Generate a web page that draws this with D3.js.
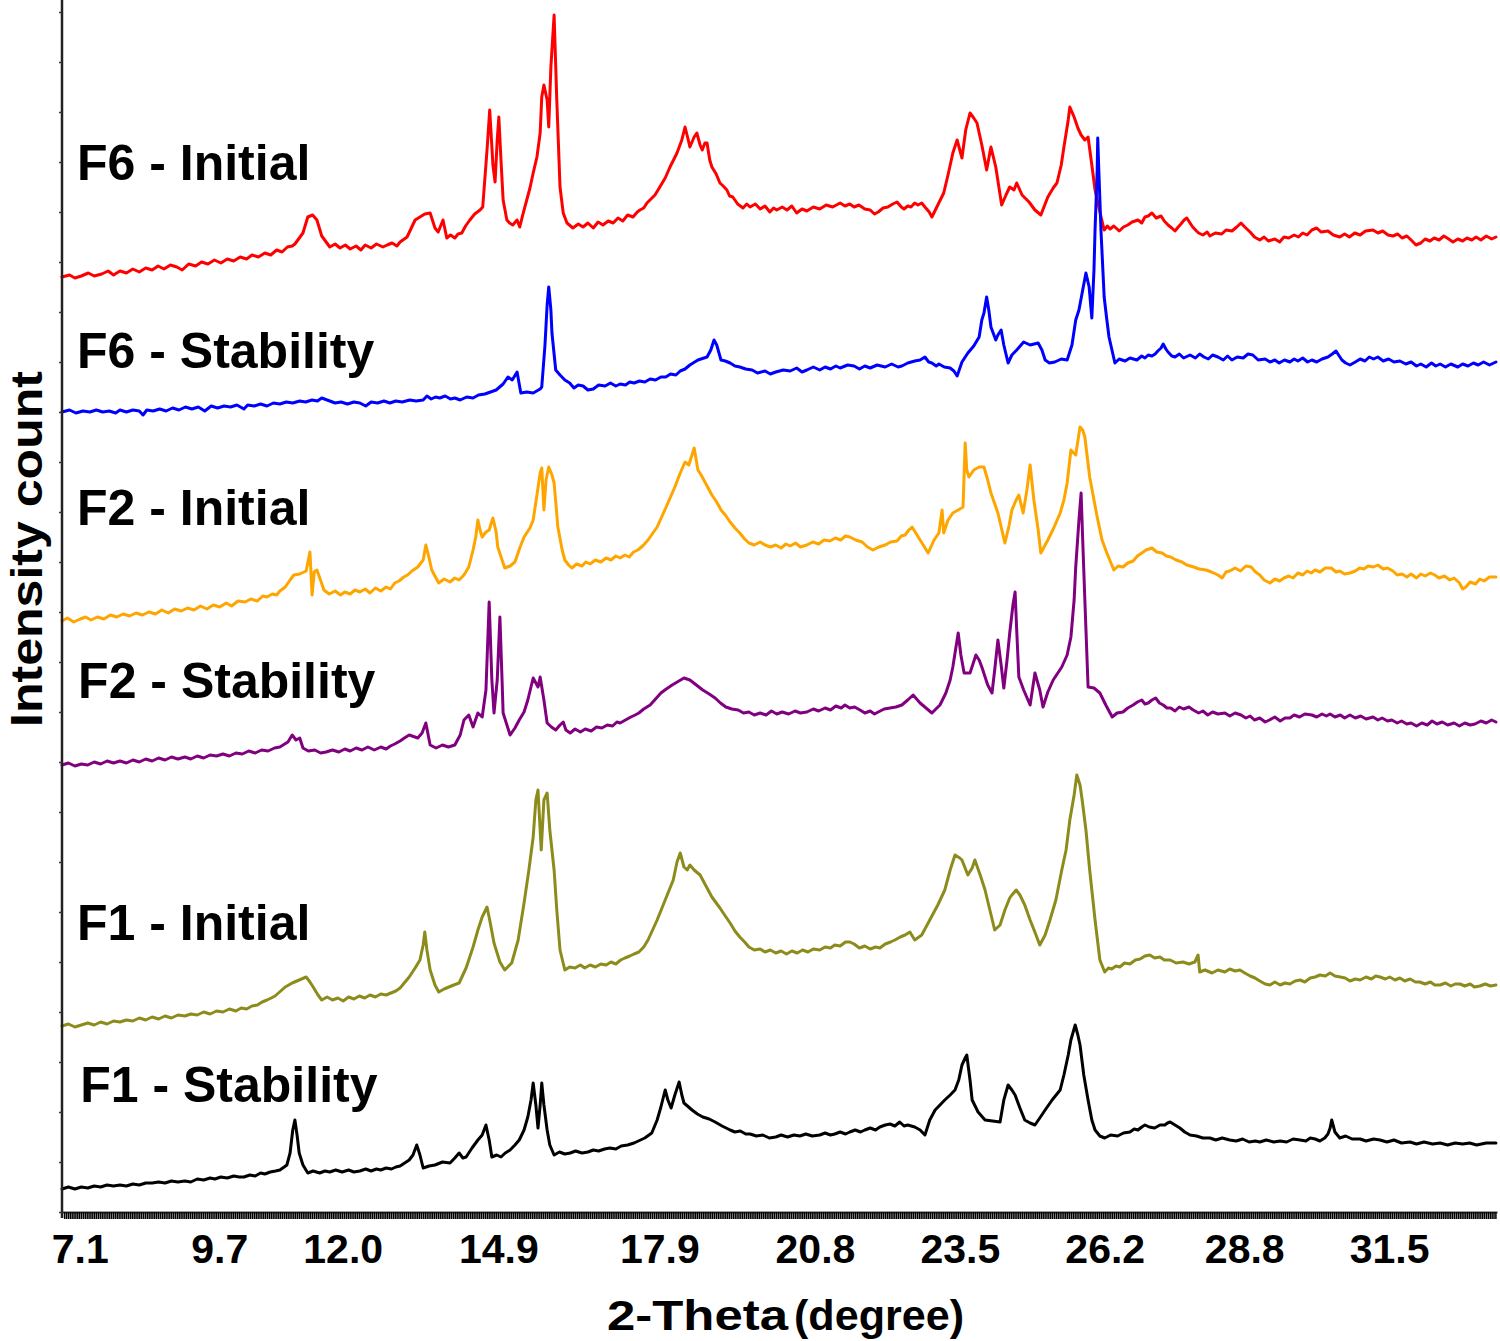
<!DOCTYPE html>
<html>
<head>
<meta charset="utf-8">
<script src="https://cdn.jsdelivr.net/npm/d3@7"></script>
<style>
  html, body { margin: 0; padding: 0; background: #fff; }
  svg { display: block; }
  text { font-family: "Liberation Sans", Arial, Helvetica, sans-serif; fill: #000; }
</style>
</head>
<body>
<svg id="chart" width="1500" height="1341"></svg>
<script>
// ---------------- DATA ----------------
// 2-Theta (degree) vs. stacked intensity count (arbitrary units, offset per pattern)
const seriesNames = ["F6 - Initial", "F6 - Stability", "F2 - Initial", "F2 - Stability", "F1 - Initial", "F1 - Stability"];

const f6Initial = [
  [6.76,935],[6.9,937],[7.0,934],[7.12,936],[7.25,939],[7.36,936],[7.5,938],[7.62,941],[7.72,937],[7.84,941],[7.96,939],[8.08,943],[8.2,940],[8.32,944],[8.44,942],[8.55,946],[8.66,943],[8.78,947],[8.9,945],[9.0,942],[9.12,948],[9.25,946],[9.36,950],[9.48,948],[9.6,952],[9.72,949],[9.84,953],[9.96,951],[10.08,955],[10.2,953],[10.3,957],[10.42,955],[10.54,959],[10.65,957],[10.76,962],[10.86,960],[10.96,965],[11.05,966],
  [11.10,968],[11.25,979],[11.34,995],[11.43,997],[11.51,992],[11.60,976],
  [11.75,965],[11.85,968],[11.94,964],[12.04,967],[12.13,963],[12.24,966],[12.33,962],[12.41,967],[12.52,964],[12.62,968],[12.74,965],[12.82,967],[12.91,969],[13.0,966],[13.06,970],
  [13.19,975],[13.34,992],[13.43,995],[13.52,998],[13.62,999],[13.71,984],[13.77,980],[13.86,992],[13.93,974],[14.0,977],[14.08,974],[14.14,978],[14.21,979],[14.28,986],[14.36,992],[14.45,998],[14.55,1002],[14.60,1005],[14.68,1062],[14.73,1102],[14.79,1047],[14.83,1030],[14.87,1072],[14.90,1095],[14.94,1052],[14.98,1012],[15.05,992],[15.1,989],[15.16,987],[15.24,992],[15.29,985],[15.35,998],[15.42,1012],[15.48,1024],[15.54,1039],[15.61,1055],[15.67,1079],[15.70,1115],[15.74,1127],[15.80,1112],[15.83,1085],[15.87,1145],[15.93,1197],[15.98,1112],[16.04,1025],[16.10,999],
  [16.17,989],[16.28,984],[16.38,988],[16.47,985],[16.56,989],[16.66,984],[16.75,990],[16.84,987],[16.94,991],[17.03,989],[17.12,994],[17.21,991],[17.30,997],[17.40,995],[17.48,1000],[17.53,1002],[17.6,1004],[17.66,1009],
  [17.81,1017],[17.90,1025],[18.00,1034],[18.09,1045],[18.22,1059],[18.31,1072],[18.37,1085],[18.43,1072],[18.46,1065],[18.54,1075],[18.59,1079],[18.65,1067],[18.69,1062],[18.74,1069],[18.78,1069],[18.83,1052],[18.87,1045],[18.95,1038],[19.02,1029],[19.08,1026],[19.15,1022],[19.2,1016],[19.26,1015],[19.35,1008],
  [19.45,1004],[19.52,1008],[19.58,1005],[19.68,1008],[19.77,1003],[19.86,1006],[19.95,1000],[20.02,1004],[20.08,1002],[20.18,1005],[20.27,1002],[20.36,1006],[20.45,999],[20.55,1003],[20.64,1001],[20.76,1005],[20.88,1003],[21.0,1007],[21.12,1005],[21.26,1009],[21.35,1006],[21.44,1008],[21.52,1005],[21.61,1007],[21.72,1003],[21.82,1002],[21.9,998],[21.97,1000],[22.06,1004],[22.15,1005],[22.24,1008],[22.32,1010],[22.40,1005],[22.45,1003],[22.52,1006],[22.58,1005],[22.65,1009],[22.71,1007],[22.78,1009],[22.84,1005],[22.92,1000],[22.97,995],
  [23.08,1007],[23.19,1019],[23.27,1037],[23.36,1059],[23.44,1072],[23.49,1062],[23.53,1054],[23.60,1082],[23.68,1099],[23.75,1094],[23.81,1089],[23.90,1067],[23.99,1042],[24.07,1065],[24.16,1045],[24.27,1007],[24.35,1017],[24.42,1025],[24.50,1022],[24.55,1029],[24.65,1017],[24.78,1010],[24.89,1002],[25.00,997],[25.13,1015],[25.23,1024],[25.30,1029],[25.38,1047],[25.43,1065],[25.51,1092],[25.54,1105],[25.62,1095],[25.69,1084],[25.75,1077],[25.82,1072],[25.88,1075],[25.95,1047],[26.01,1022],
  [26.10,1000],[26.18,982],[26.24,986],[26.29,983],[26.36,986],[26.46,981],[26.54,985],[26.62,987],[26.7,990],[26.81,992],[26.88,989],[26.94,995],[27.0,996],[27.07,999],[27.15,994],[27.24,996],[27.3,991],[27.37,987],[27.44,984],[27.50,981],[27.56,985],[27.61,988],[27.67,992],[27.72,994],[27.78,989],[27.83,985],[27.9,981],[27.94,979],[28.02,977],[28.1,980],[28.15,976],[28.25,979],[28.37,978],[28.45,982],[28.56,981],[28.65,985],[28.73,989],[28.8,985],[28.90,980],[28.98,975],[29.08,972],[29.16,975],[29.24,971],[29.36,973],[29.45,970],[29.53,975],[29.62,974],[29.72,977],[29.80,975],[29.88,979],[29.96,977],[30.05,982],[30.14,984],[30.22,980],[30.35,981],[30.45,977],[30.57,975],[30.66,978],[30.75,975],[30.85,979],[30.95,977],[31.05,981],[31.19,982],[31.28,979],[31.37,981],[31.47,977],[31.56,976],[31.65,978],[31.73,974],[31.82,976],[31.9,972],[31.99,967],[32.08,969],[32.16,973],[32.25,971],[32.33,974],[32.42,972],[32.51,976],[32.6,973],[32.68,970],[32.77,973],[32.86,971],[32.94,974],[33.03,972],[33.11,975],[33.2,972],[33.3,976],[33.4,973],[33.48,975]
];

const f6Stability = [
  [6.76,800],[6.9,802],[7.02,799],[7.15,801],[7.28,800],[7.4,802],[7.52,800],[7.64,801],[7.76,799],[7.84,802],[7.96,800],[8.08,802],[8.2,801],[8.27,797],[8.34,802],[8.46,801],[8.58,803],[8.7,801],[8.82,804],[8.94,802],[9.06,805],[9.18,803],[9.3,805],[9.42,801],[9.54,806],[9.66,804],[9.78,806],[9.9,805],[10.02,807],[10.15,803],[10.22,807],[10.34,806],[10.46,808],[10.58,806],[10.7,809],[10.82,808],[10.94,810],[11.06,809],[11.19,811],[11.3,810],[11.42,812],[11.52,811],[11.60,814],[11.7,812],[11.85,809],[11.96,810],[12.08,808],[12.2,810],[12.31,809],[12.42,806],[12.52,810],[12.64,809],[12.76,811],[12.87,809],[12.98,811],[13.1,810],[13.24,812],[13.36,811],[13.49,812],[13.56,816],[13.64,813],[13.72,815],[13.80,814],[13.9,816],[14.0,813],[14.08,814],[14.18,812],[14.3,815],[14.42,814],[14.52,817],[14.64,818],
  [14.85,822],[14.98,828],[15.07,835],[15.15,832],[15.24,840],[15.31,819],[15.42,820],[15.54,819],[15.67,823],[15.70,825],[15.76,867],[15.80,907],[15.83,925],[15.87,902],[15.89,879],[15.96,842],[16.04,837],
  [16.13,832],[16.22,829],[16.30,824],[16.38,827],[16.47,826],[16.56,822],[16.66,823],[16.76,827],[16.88,826],[16.98,829],[17.08,826],[17.16,828],[17.26,827],[17.34,830],[17.42,829],[17.52,831],[17.62,830],[17.72,833],[17.82,832],[17.92,835],[18.01,835],[18.1,838],[18.2,837],[18.28,841],[18.37,843],[18.46,847],
  [18.61,852],[18.78,855],[18.85,862],[18.91,872],[18.96,867],[19.04,852],[19.12,851],
  [19.21,849],[19.3,846],[19.39,845],[19.5,843],[19.62,842],[19.72,839],[19.86,841],[19.96,838],[20.06,840],[20.2,842],[20.33,841],[20.45,844],[20.55,840],[20.64,842],[20.76,845],[20.88,842],[20.98,845],[21.08,843],[21.18,846],[21.26,844],[21.4,847],[21.52,846],[21.62,843],[21.72,846],[21.82,844],[21.95,847],[22.10,845],[22.22,848],[22.34,845],[22.41,846],[22.52,849],[22.65,851],[22.75,852],[22.84,855],[22.91,850],[22.97,849],[23.05,846],[23.10,848],[23.2,845],[23.31,844],[23.38,841],[23.44,836],
  [23.53,850],[23.64,859],[23.75,866],[23.85,875],[23.90,892],[23.94,899],[23.99,915],[24.03,902],[24.07,885],[24.16,872],[24.20,877],[24.26,882],[24.31,867],[24.39,849],[24.46,857],[24.55,862],[24.68,870],[24.80,867],[24.95,869],[25.02,862],[25.08,852],[25.16,849],[25.26,850],[25.38,853],[25.49,852],[25.58,867],[25.65,892],[25.71,902],[25.78,922],[25.84,939],[25.90,925],[25.95,894],[25.99,942],[26.01,982],[26.05,1042],[26.06,1074],[26.08,1042],[26.12,982],[26.18,915],[26.23,892],[26.27,875],
  [26.38,849],[26.46,853],[26.57,851],[26.66,854],[26.79,852],[26.88,856],[26.94,854],[27.0,857],[27.07,856],[27.13,858],[27.18,861],[27.24,864],[27.28,868],[27.33,863],[27.37,860],[27.44,856],[27.50,855],[27.58,858],[27.66,854],[27.78,857],[27.88,854],[27.96,858],[28.04,855],[28.12,853],[28.2,857],[28.30,855],[28.4,852],[28.48,856],[28.56,852],[28.66,855],[28.77,854],[28.86,858],[28.95,857],[29.05,852],[29.18,853],[29.27,850],[29.36,852],[29.44,849],[29.54,852],[29.64,850],[29.72,853],[29.79,851],[29.88,854],[29.97,850],[30.05,852],[30.14,850],[30.24,853],[30.35,855],[30.43,858],[30.50,861],[30.56,856],[30.61,852],[30.68,849],[30.76,847],[30.86,850],[30.95,853],[31.04,851],[31.12,855],[31.2,853],[31.28,855],[31.38,851],[31.48,853],[31.58,850],[31.69,851],[31.8,848],[31.9,850],[32.0,846],[32.08,848],[32.18,845],[32.28,849],[32.36,846],[32.44,848],[32.54,845],[32.64,848],[32.77,845],[32.86,848],[32.96,846],[33.06,849],[33.15,847],[33.25,850],[33.36,847],[33.48,850]
];

const f2Initial = [
  [6.76,591],[6.86,594],[6.98,590],[7.1,593],[7.2,595],[7.3,592],[7.42,595],[7.54,593],[7.66,597],[7.78,595],[7.9,598],[8.02,596],[8.14,599],[8.26,597],[8.38,600],[8.5,598],[8.62,602],[8.74,599],[8.86,603],[8.98,601],[9.1,604],[9.22,602],[9.34,606],[9.46,603],[9.58,607],[9.7,605],[9.82,609],[9.92,606],[10.04,611],[10.17,610],[10.28,613],[10.4,611],[10.5,616],[10.58,615],[10.68,618],[10.76,617],[10.82,621],
  [10.92,625],[11.01,632],[11.08,637],[11.19,638],[11.31,641],[11.38,660],[11.42,617],[11.46,640],[11.51,642],[11.59,630],
  [11.64,622],[11.74,618],[11.85,621],[11.95,617],[12.03,620],[12.13,618],[12.22,622],[12.31,620],[12.41,623],[12.5,619],[12.6,624],[12.70,621],[12.8,625],[12.88,623],[12.96,629],[13.04,631],[13.13,635],[13.2,637],[13.28,641],
  [13.39,645],[13.49,652],[13.54,667],[13.60,654],[13.65,642],[13.78,629],[13.88,633],[13.99,630],[14.08,634],[14.16,632],[14.25,637],[14.34,645],[14.42,662],[14.47,675],[14.51,692],[14.55,682],[14.59,675],[14.66,680],[14.72,682],[14.79,694],[14.85,680],[14.88,665],[15.01,644],[15.11,646],[15.20,650],[15.29,664],[15.37,675],[15.48,684],[15.54,692],[15.61,717],[15.67,739],[15.70,744],[15.74,702],[15.78,732],[15.83,745],[15.89,737],[15.93,729],[16.00,685],[16.08,662],
  [16.13,652],[16.2,647],[16.26,644],[16.35,648],[16.45,646],[16.52,650],[16.60,648],[16.7,652],[16.8,650],[16.9,654],[16.99,652],[17.08,656],[17.16,654],[17.25,657],[17.33,655],[17.41,660],[17.49,662],[17.58,666],[17.68,672],
  [17.85,685],[18.01,704],[18.18,725],[18.28,739],[18.37,750],[18.44,747],[18.54,764],[18.61,742],[18.67,737],[18.74,730],[18.87,717],[18.96,710],[19.04,702],[19.12,697],[19.21,690],[19.3,684],[19.39,679],[19.48,673],
  [19.56,669],[19.66,667],[19.77,670],[19.86,667],[19.96,665],[20.06,667],[20.16,664],[20.25,668],[20.33,666],[20.43,669],[20.52,665],[20.64,667],[20.75,670],[20.86,668],[20.96,672],[21.07,671],[21.17,674],[21.27,672],[21.36,676],[21.44,675],[21.55,672],[21.67,670],[21.77,665],[21.87,662],[21.98,665],[22.10,667],[22.2,670],[22.32,671],[22.4,676],[22.47,677],[22.54,682],[22.60,685],
  [22.75,672],[22.90,659],[23.01,672],[23.10,679],[23.16,702],[23.19,679],[23.27,692],[23.36,699],[23.46,702],[23.55,705],[23.59,769],[23.62,742],[23.66,735],[23.75,742],[23.85,745],[23.94,745],[24.01,732],[24.07,719],[24.20,699],[24.33,669],[24.41,687],[24.46,702],[24.54,712],[24.59,717],[24.67,699],[24.74,722],[24.80,747],[24.87,712],[24.95,682],[25.00,659],[25.13,672],[25.24,684],[25.36,699],[25.43,712],[25.49,729],[25.56,762],[25.65,757],[25.73,785],[25.78,782],[25.82,775],[25.91,735],[25.99,712],[26.05,695],[26.14,672],[26.23,659],
  [26.36,642],[26.44,646],[26.53,645],[26.62,649],[26.72,651],[26.8,656],[26.88,659],[26.96,662],[27.07,664],[27.16,660],[27.26,659],[27.34,656],[27.42,655],[27.52,652],[27.63,650],[27.72,647],[27.85,645],[27.95,643],[28.08,642],[28.18,640],[28.30,637],[28.38,634],[28.45,640],[28.52,641],[28.62,644],[28.72,641],[28.82,646],[28.92,645],[29.0,640],[29.08,637],[29.16,632],[29.27,629],[29.36,633],[29.45,631],[29.53,634],[29.62,636],[29.70,634],[29.79,639],[29.88,637],[29.96,641],[30.04,639],[30.11,642],[30.2,640],[30.3,644],[30.41,644],[30.5,640],[30.57,641],[30.66,638],[30.76,639],[30.86,641],[30.94,644],[31.02,643],[31.1,646],[31.2,645],[31.28,647],[31.38,643],[31.46,644],[31.56,641],[31.64,637],[31.73,638],[31.82,635],[31.9,638],[32.0,634],[32.08,638],[32.16,636],[32.26,639],[32.34,637],[32.42,634],[32.52,636],[32.62,632],[32.7,634],[32.8,629],[32.86,623],[32.92,625],[33.0,630],[33.1,628],[33.18,633],[33.26,631],[33.36,635],[33.48,635]
];

const f2Stability = [
  [6.76,447],[6.88,449],[7.0,446],[7.12,448],[7.24,447],[7.36,450],[7.48,448],[7.6,451],[7.72,449],[7.84,451],[7.96,449],[8.08,452],[8.2,450],[8.32,453],[8.44,451],[8.56,454],[8.68,452],[8.8,455],[8.92,453],[9.05,455],[9.16,453],[9.28,456],[9.4,454],[9.52,457],[9.64,456],[9.76,458],[9.88,456],[10.0,459],[10.12,458],[10.24,461],[10.36,459],[10.48,462],[10.6,461],[10.72,464],[10.82,465],
  [10.97,470],[11.05,477],[11.12,472],[11.19,474],
  [11.25,464],[11.35,461],[11.47,462],[11.58,459],[11.68,460],[11.8,462],[11.92,460],[12.03,463],[12.13,461],[12.24,464],[12.35,462],[12.46,465],[12.58,462],[12.70,465],[12.8,463],[12.88,466],[12.96,468],[13.06,471],[13.14,474],[13.23,477],
  [13.39,474],[13.47,479],[13.54,489],[13.62,467],[13.73,464],[13.85,467],[13.96,465],[14.08,467],[14.18,477],[14.25,492],[14.34,497],[14.42,485],[14.51,499],[14.59,495],[14.66,522],[14.72,610],[14.77,532],[14.81,499],[14.87,532],[14.92,595],[14.96,532],[14.98,499],[15.11,477],[15.2,484],[15.28,492],[15.37,500],[15.44,512],[15.54,534],[15.63,525],[15.67,535],[15.74,512],[15.80,489],[15.88,485],[15.96,482],[16.04,487],[16.10,490],[16.15,482],
  [16.23,479],[16.32,483],[16.42,480],[16.51,483],[16.62,481],[16.72,485],[16.82,484],[16.92,487],[17.02,486],[17.1,490],[17.16,489],[17.26,492],[17.36,495],[17.44,497],[17.51,499],[17.6,503],[17.72,507],[17.82,513],[17.92,519],[18.02,523],[18.13,527],
  [18.35,534],[18.46,532],[18.58,527],[18.70,522],[18.82,518],
  [18.93,514],[19.03,509],[19.13,505],[19.24,503],[19.36,502],[19.46,499],[19.56,500],[19.66,497],[19.77,499],[19.88,497],[19.98,501],[20.08,498],[20.18,500],[20.3,498],[20.42,501],[20.52,499],[20.64,500],[20.76,503],[20.86,501],[20.98,504],[21.08,502],[21.18,506],[21.28,504],[21.35,507],[21.44,504],[21.53,505],[21.63,502],[21.72,499],[21.82,501],[21.9,498],[21.97,500],[22.08,503],[22.19,504],[22.3,505],[22.41,507],
  [22.52,512],[22.62,517],[22.75,509],[22.97,499],[23.12,507],[23.23,519],[23.31,532],[23.36,545],[23.46,579],[23.51,557],[23.57,539],[23.68,539],[23.79,557],[23.85,552],[23.90,545],[24.01,527],[24.09,519],[24.14,542],[24.20,572],[24.26,547],[24.31,524],[24.37,552],[24.42,579],[24.48,607],[24.52,620],[24.55,582],[24.59,535],[24.68,522],[24.80,507],[24.89,539],[24.98,522],[25.04,505],[25.13,520],[25.23,532],[25.39,545],[25.49,557],[25.56,575],[25.62,612],[25.65,645],[25.71,692],[25.75,719],[25.78,672],[25.82,612],[25.88,525],[25.99,524],[26.10,519],[26.21,507],
  [26.33,495],[26.42,499],[26.53,500],[26.62,504],[26.72,507],[26.8,510],[26.88,512],[26.94,508],[27.00,509],[27.07,512],[27.14,514],[27.21,509],[27.28,507],[27.35,504],[27.42,504],[27.5,501],[27.58,505],[27.66,503],[27.76,505],[27.84,502],[27.94,499],[28.02,501],[28.11,497],[28.2,500],[28.3,498],[28.43,499],[28.52,496],[28.62,499],[28.73,497],[28.82,494],[28.9,496],[28.98,492],[29.08,494],[29.18,490],[29.26,492],[29.36,495],[29.46,491],[29.55,494],[29.64,494],[29.72,497],[29.82,495],[29.92,498],[30.05,497],[30.14,495],[30.24,498],[30.32,496],[30.39,498],[30.48,495],[30.58,497],[30.66,494],[30.76,497],[30.86,494],[30.96,496],[31.06,493],[31.19,495],[31.28,492],[31.36,494],[31.46,491],[31.54,492],[31.64,489],[31.72,491],[31.82,488],[31.90,489],[32.0,486],[32.1,489],[32.2,487],[32.29,491],[32.38,488],[32.48,490],[32.58,487],[32.7,489],[32.8,486],[32.9,489],[33.0,487],[33.09,488],[33.2,491],[33.3,489],[33.4,492],[33.48,490]
];

const f1Initial = [
  [6.76,186],[6.88,188],[7.0,185],[7.12,187],[7.24,189],[7.36,187],[7.48,190],[7.6,188],[7.72,191],[7.84,190],[7.96,192],[8.08,191],[8.2,194],[8.32,192],[8.44,195],[8.56,193],[8.68,196],[8.8,194],[8.92,197],[9.05,196],[9.16,198],[9.28,197],[9.4,200],[9.52,198],[9.64,201],[9.76,200],[9.88,203],[10.0,201],[10.1,204],[10.2,203],[10.3,206],[10.4,207],[10.49,210],[10.58,212],[10.66,214],[10.73,216],
  [10.92,225],[11.05,229],[11.18,232],[11.31,235],[11.38,230],[11.44,225],[11.53,217],
  [11.60,212],[11.7,215],[11.8,212],[11.9,214],[12.0,211],[12.1,215],[12.2,213],[12.3,216],[12.4,214],[12.5,217],[12.6,215],[12.7,218],[12.8,217],[12.89,219],[12.98,221],[13.06,224],
  [13.23,235],[13.34,244],[13.43,252],[13.49,267],[13.52,280],[13.56,262],[13.62,242],[13.71,227],[13.78,220],[13.88,223],[13.97,225],[14.06,227],[14.16,229],[14.29,244],[14.42,265],[14.51,282],[14.59,295],[14.68,305],[14.73,292],[14.81,269],[14.92,250],[15.01,242],[15.14,249],[15.26,272],[15.37,309],[15.46,342],[15.54,375],[15.59,412],[15.63,422],[15.69,362],[15.74,412],[15.80,419],[15.85,382],[15.93,342],[15.98,302],[16.04,262],
  [16.13,242],[16.22,245],[16.32,244],[16.42,247],[16.5,244],[16.6,247],[16.7,245],[16.8,248],[16.9,247],[16.99,250],[17.08,248],[17.17,252],[17.25,254],[17.34,256],[17.42,258],[17.51,260],[17.6,265],[17.68,272],
  [17.85,292],[18.00,312],[18.15,332],[18.22,350],[18.28,359],[18.35,345],[18.41,342],[18.46,347],[18.54,342],[18.65,337],[18.76,326],[18.87,315],[19.02,304],[19.12,296],[19.21,289],[19.3,281],[19.39,275],[19.48,270],
  [19.56,265],[19.66,262],[19.77,263],[19.86,260],[19.96,262],[20.06,259],[20.16,261],[20.26,258],[20.36,261],[20.46,259],[20.56,262],[20.66,260],[20.76,263],[20.88,262],[20.98,265],[21.08,264],[21.16,267],[21.26,266],[21.36,270],[21.44,270],[21.52,268],[21.62,264],[21.72,266],[21.82,263],[21.92,265],[22.0,264],[22.1,268],[22.2,270],[22.28,272],[22.38,275],[22.47,277],[22.56,280],
  [22.65,272],[22.78,277],[22.93,292],[23.08,307],[23.21,322],[23.31,342],[23.40,357],[23.49,354],[23.53,352],[23.64,337],[23.72,344],[23.77,352],[23.87,337],[23.96,322],[24.05,302],[24.14,282],[24.24,287],[24.33,302],[24.42,314],[24.46,317],[24.54,322],[24.61,317],[24.70,307],[24.80,292],[24.91,277],[24.98,267],[25.08,277],[25.17,292],[25.28,312],[25.39,342],[25.47,362],[25.54,392],[25.62,417],[25.67,437],[25.73,427],[25.77,412],[25.84,382],[25.91,342],[26.01,292],[26.10,252],
  [26.19,240],[26.26,244],[26.32,243],[26.4,246],[26.47,245],[26.56,249],[26.66,248],[26.76,252],[26.85,253],[26.94,256],[27.03,257],[27.12,254],[27.22,255],[27.3,252],[27.41,252],[27.52,249],[27.65,250],[27.76,248],[27.87,250],[27.93,257],[27.96,240],[28.06,242],[28.19,239],[28.3,242],[28.43,240],[28.52,243],[28.62,241],[28.71,242],[28.8,239],[28.9,236],[28.99,234],[29.08,231],[29.18,228],[29.27,227],[29.36,230],[29.46,227],[29.55,229],[29.64,228],[29.74,231],[29.83,232],[29.92,230],[30.02,234],[30.11,235],[30.2,237],[30.3,236],[30.39,239],[30.48,236],[30.58,235],[30.67,234],[30.76,231],[30.86,233],[30.95,232],[31.06,235],[31.16,233],[31.24,236],[31.32,235],[31.42,233],[31.5,235],[31.6,232],[31.69,234],[31.78,231],[31.88,233],[31.98,230],[32.06,230],[32.16,228],[32.26,230],[32.34,227],[32.44,227],[32.54,229],[32.64,226],[32.72,228],[32.81,228],[32.9,226],[33.0,228],[33.08,225],[33.18,226],[33.28,228],[33.38,226],[33.48,227]
];

const f1Stability = [
  [6.76,23],[6.88,25],[7.0,23],[7.12,25],[7.24,24],[7.36,26],[7.48,25],[7.6,27],[7.72,26],[7.84,27],[7.96,26],[8.08,28],[8.2,27],[8.32,29],[8.44,29],[8.56,30],[8.68,29],[8.8,31],[8.92,30],[9.05,31],[9.16,30],[9.28,33],[9.4,32],[9.52,34],[9.61,33],[9.72,35],[9.84,34],[9.96,36],[10.06,35],[10.15,35],[10.26,37],[10.36,36],[10.46,39],[10.54,38],[10.64,40],[10.74,41],[10.82,42],[10.9,45],
  [10.95,47],[11.01,59],[11.06,82],[11.10,92],[11.14,77],[11.18,59],[11.25,47],
  [11.34,39],[11.44,41],[11.56,39],[11.66,41],[11.75,40],[11.86,42],[11.98,40],[12.1,42],[12.2,40],[12.31,41],[12.42,43],[12.52,41],[12.62,43],[12.70,42],[12.8,44],[12.9,43],[12.98,45],[13.06,46],
  [13.23,52],[13.30,57],[13.37,67],[13.43,57],[13.49,44],[13.6,46],[13.71,47],[13.85,50],[13.99,49],[14.08,54],[14.16,59],[14.23,54],[14.29,55],[14.40,64],[14.51,72],[14.59,77],[14.66,87],[14.72,72],[14.77,55],[14.86,57],[14.94,55],[15.02,59],[15.11,62],[15.2,67],[15.28,72],[15.37,82],[15.44,95],[15.50,112],[15.54,129],[15.59,107],[15.63,84],[15.67,107],[15.70,129],[15.74,107],[15.80,82],[15.85,67],
  [15.93,57],[16.03,60],[16.13,58],[16.23,59],[16.33,61],[16.45,59],[16.56,60],[16.66,62],[16.76,61],[16.87,63],[16.97,64],[17.08,63],[17.18,66],[17.3,67],[17.42,69],
  [17.62,74],[17.75,79],[17.85,92],[17.92,105],[18.00,122],[18.05,112],[18.11,104],[18.18,117],[18.26,130],[18.31,117],[18.35,109],[18.50,102],[18.6,98],[18.70,95],[18.82,93],[18.93,90],[19.06,86],
  [19.21,82],[19.3,80],[19.4,81],[19.5,78],[19.58,78],[19.7,76],[19.82,77],[19.94,74],[20.06,75],[20.16,77],[20.28,75],[20.4,77],[20.51,76],[20.62,78],[20.74,76],[20.88,77],[20.98,79],[21.08,77],[21.16,78],[21.26,80],[21.36,78],[21.44,80],[21.54,82],[21.64,80],[21.72,82],[21.82,84],[21.92,82],[22.0,85],[22.1,87],[22.19,88],[22.28,86],[22.37,90],[22.45,86],[22.52,87],
  [22.65,85],[22.75,82],[22.84,77],[22.93,92],[23.03,102],[23.12,107],[23.21,112],[23.31,117],[23.40,122],[23.47,132],[23.53,147],[23.59,154],[23.62,157],[23.68,132],[23.72,112],[23.83,100],[23.96,92],[24.1,91],[24.24,90],[24.31,112],[24.39,127],[24.46,122],[24.52,117],[24.61,104],[24.70,92],[24.8,89],[24.89,87],[24.98,94],[25.08,102],[25.21,112],[25.36,122],[25.43,137],[25.51,157],[25.56,172],[25.64,187],[25.69,177],[25.73,167],[25.80,137],[25.88,112],[25.95,92],
  [26.01,82],[26.1,76],[26.19,74],[26.3,77],[26.43,76],[26.54,79],[26.66,80],[26.74,83],[26.81,82],[26.88,85],[26.94,87],[27.02,85],[27.12,84],[27.22,87],[27.31,87],[27.36,89],[27.41,90],[27.5,87],[27.59,84],[27.68,80],[27.78,77],[27.9,76],[28.02,74],[28.15,74],[28.26,72],[28.38,74],[28.52,72],[28.64,71],[28.76,73],[28.88,70],[29.0,71],[29.08,70],[29.2,72],[29.34,70],[29.46,71],[29.58,70],[29.7,73],[29.83,72],[29.94,71],[30.02,74],[30.11,73],[30.2,71],[30.29,74],[30.35,78],[30.39,84],[30.42,92],[30.48,80],[30.57,74],[30.68,76],[30.8,73],[30.95,73],[31.06,71],[31.2,73],[31.32,72],[31.45,70],[31.58,72],[31.72,69],[31.88,70],[32.0,68],[32.14,70],[32.3,68],[32.44,69],[32.58,67],[32.72,69],[32.86,68],[32.99,69],[33.12,67],[33.3,69],[33.48,69]
];

const seriesValues = [f6Initial, f6Stability, f2Initial, f2Stability, f1Initial, f1Stability];

const xTickLabels = [7.1, 9.7, 12.0, 14.9, 17.9, 20.8, 23.5, 26.2, 28.8, 31.5];
const xAxisTitle = ["2-Theta", "(degree)"];
const yAxisTitle = "Intensity count";

// ---------------- STYLE / LAYOUT ----------------
const seriesColors = ["#ff0000", "#0000ff", "#ffa500", "#800080", "#8c8c1c", "#000000"];
// label anchors expressed in data units (2-Theta, intensity)
const labelAnchors = [[7.04, 1032], [7.04, 844], [7.04, 687], [7.06, 514], [7.04, 272], [7.10, 110]];

const plot = { left: 62, right: 1497, top: 0, bottom: 1212 };

const svg = d3.select("#chart");
const x = d3.scaleLinear().domain([6.76, 33.5]).range([plot.left, plot.right]);
const y = d3.scaleLinear().domain([0, 1212]).range([plot.bottom, plot.top]);

// traces
const line = d3.line().x(d => x(d[0])).y(d => y(d[1]));
svg.append("g").selectAll("path")
  .data(seriesValues)
  .join("path")
  .attr("d", d => line(d))
  .attr("fill", "none")
  .attr("stroke", (d, i) => seriesColors[i])
  .attr("stroke-width", 3)
  .attr("stroke-linejoin", "round")
  .attr("stroke-linecap", "round");

// bottom axis: dense minor ticks forming a thick dark band
const minorTicks = d3.range(6.8, 33.5, 0.035);
const gx = svg.append("g").attr("transform", `translate(0,${plot.bottom})`)
  .call(d3.axisBottom(x).tickValues(minorTicks).tickSize(7).tickSizeOuter(0).tickFormat(""));
gx.select(".domain").attr("stroke", "#444").attr("stroke-width", 2);
gx.selectAll(".tick line").attr("stroke", "#000").attr("stroke-width", 1.5);

// left axis
const gy = svg.append("g").attr("transform", `translate(${plot.left},0)`)
  .call(d3.axisLeft(y).ticks(36).tickSize(3).tickSizeOuter(0).tickFormat(""));
gy.select(".domain").attr("stroke", "#222").attr("stroke-width", 2.5)
  .attr("d", `M0,${y(1212)}V${plot.bottom + 6}`);
gy.selectAll(".tick line").attr("stroke", "#333").attr("stroke-width", 1.5);

// tick labels
svg.append("g").selectAll("text")
  .data(xTickLabels)
  .join("text")
  .attr("x", d => x(d))
  .attr("y", 1263)
  .attr("text-anchor", "middle")
  .attr("font-size", 41)
  .attr("font-weight", "bold")
  .text(d => d.toFixed(1));

// series labels
svg.append("g").selectAll("text")
  .data(seriesNames)
  .join("text")
  .attr("x", (d, i) => x(labelAnchors[i][0]))
  .attr("y", (d, i) => y(labelAnchors[i][1]))
  .attr("font-size", 50)
  .attr("font-weight", "bold")
  .text(d => d);

// x axis title
svg.append("text").attr("x", 607).attr("y", 1330)
  .attr("font-size", 42).attr("font-weight", "bold")
  .attr("textLength", 181).attr("lengthAdjust", "spacingAndGlyphs")
  .text(xAxisTitle[0]);
svg.append("text").attr("x", 794).attr("y", 1330)
  .attr("font-size", 42).attr("font-weight", "bold")
  .attr("textLength", 170).attr("lengthAdjust", "spacingAndGlyphs")
  .text(xAxisTitle[1]);

// y axis title
svg.append("text")
  .attr("transform", "translate(42,549) rotate(-90)")
  .attr("text-anchor", "middle")
  .attr("font-size", 44)
  .attr("font-weight", "bold")
  .attr("textLength", 356).attr("lengthAdjust", "spacingAndGlyphs")
  .text(yAxisTitle);
</script>
</body>
</html>
